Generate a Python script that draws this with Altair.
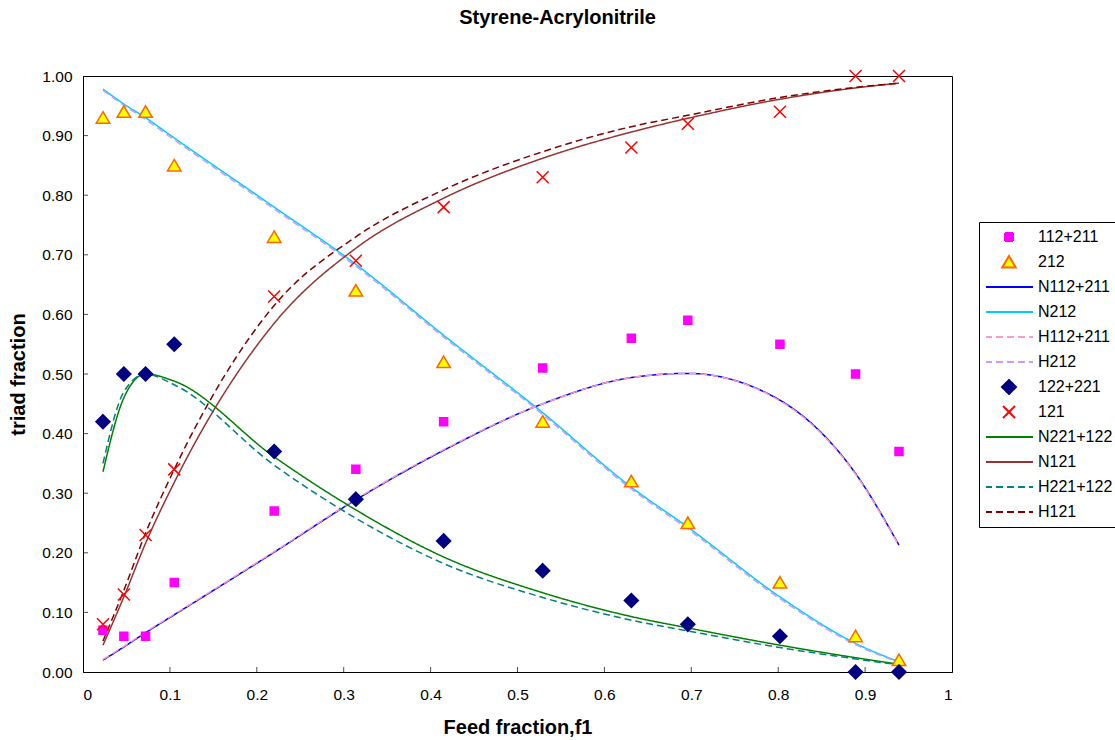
import altair as alt
import pandas as pd

# Feed fraction of styrene (f1) for every experiment
feed_f1 = [0.023, 0.047, 0.072, 0.105, 0.220, 0.314, 0.415, 0.529, 0.631, 0.696, 0.802, 0.889, 0.939]

# Measured triad fractions
exp_112_211 = [0.07, 0.06, 0.06, 0.15, 0.27, 0.34, 0.42, 0.51, 0.56, 0.59, 0.55, 0.50, 0.37]
exp_212 = [0.93, 0.94, 0.94, 0.85, 0.73, 0.64, 0.52, 0.42, 0.32, 0.25, 0.15, 0.06, 0.02]
exp_122_221 = [0.42, 0.50, 0.50, 0.55, 0.37, 0.29, 0.22, 0.17, 0.12, 0.08, 0.06, 0.00, 0.00]
exp_121 = [0.08, 0.13, 0.23, 0.34, 0.63, 0.69, 0.78, 0.83, 0.88, 0.92, 0.94, 1.00, 1.00]

# Model predictions (N = terminal model, H = penultimate model)
n_112_211 = [0.020, 0.042, 0.066, 0.096, 0.201, 0.289, 0.372, 0.450, 0.494, 0.501, 0.456, 0.333, 0.213]
n_212 = [0.978, 0.953, 0.930, 0.896, 0.780, 0.684, 0.565, 0.435, 0.310, 0.243, 0.126, 0.048, 0.017]
h_112_211 = [0.021, 0.043, 0.067, 0.097, 0.202, 0.290, 0.373, 0.450, 0.494, 0.501, 0.455, 0.332, 0.212]
h_212 = [0.976, 0.951, 0.927, 0.893, 0.777, 0.681, 0.562, 0.432, 0.307, 0.240, 0.123, 0.046, 0.016]
n_221_122 = [0.336, 0.460, 0.500, 0.488, 0.361, 0.272, 0.193, 0.133, 0.093, 0.074, 0.045, 0.024, 0.013]
n_121 = [0.045, 0.126, 0.216, 0.318, 0.585, 0.711, 0.795, 0.862, 0.906, 0.929, 0.961, 0.980, 0.988]
h_221_122 = [0.350, 0.470, 0.500, 0.482, 0.347, 0.258, 0.182, 0.125, 0.087, 0.069, 0.041, 0.022, 0.012]
h_121 = [0.052, 0.137, 0.233, 0.340, 0.615, 0.730, 0.809, 0.873, 0.915, 0.934, 0.964, 0.981, 0.988]

x_ticks = [0.1, 0.2, 0.3, 0.4, 0.5, 0.6, 0.7, 0.8, 0.9]
y_ticks = [0.1, 0.2, 0.3, 0.4, 0.5, 0.6, 0.7, 0.8, 0.9]

series_order = ["112+211", "212", "N112+211", "N212", "H112+211", "H212",
                "122+221", "121", "N221+122", "N121", "H221+122", "H121"]

# Marker / line symbols (unit paths, scaled by the symbol size)
SQUARE = "M-0.8,-0.8H0.8V0.8H-0.8Z"
TRIANGLE = "M0,-1.2L1.35,1.1H-1.35Z"
DIAMOND = "M0,-1.4L1.4,0L0,1.4L-1.4,0Z"
XMARK = "M-1.2,-1.2L1.2,1.2M-1.2,1.2L1.2,-1.2"
LINE = "M-4.8,0H4.8"

fill_range = ["#FF00FF", "#FFFF00", "transparent", "transparent", "transparent", "transparent",
              "#000080", "transparent", "transparent", "transparent", "transparent", "transparent"]
stroke_range = ["#FF00FF", "#FF6600", "#0000FF", "#00CCFF", "#FF99CC", "#CC99FF",
                "#000080", "#FF0000", "#008000", "#993333", "#008080", "#800000"]
shape_range = [SQUARE, TRIANGLE, LINE, LINE, LINE, LINE,
               DIAMOND, XMARK, LINE, LINE, LINE, LINE]
SOLID = [1, 0]
DASH = [7, 4]
dash_range = [SOLID, SOLID, SOLID, SOLID, DASH, DASH,
              SOLID, SOLID, SOLID, SOLID, DASH, DASH]

measured = {"112+211": exp_112_211, "212": exp_212, "122+221": exp_122_221, "121": exp_121}
model = {"N112+211": n_112_211, "N212": n_212, "H112+211": h_112_211, "H212": h_212,
         "N221+122": n_221_122, "N121": n_121, "H221+122": h_221_122, "H121": h_121}

points_df = pd.DataFrame([
    {"f1": x, "frac": y, "series": name}
    for name, vals in measured.items() for x, y in zip(feed_f1, vals)
])
curves_df = pd.DataFrame([
    {"f1": x, "frac": y, "series": name}
    for name, vals in model.items() for x, y in zip(feed_f1, vals)
])
xtick_df = pd.DataFrame({"f1": x_ticks, "frac": [0.0] * len(x_ticks)})
ytick_df = pd.DataFrame({"f1": [0.0] * len(y_ticks), "frac": y_ticks})

FONT = "Liberation Sans"

legend = alt.Legend(
    title=None, orient="none", legendX=896, legendY=146,
    strokeColor="black", fillColor="white", padding=7, rowPadding=9, clipHeight=16,
    labelFont=FONT, labelFontSize=16, labelColor="black",
    symbolSize=100, symbolStrokeWidth=2, symbolOffset=15, labelOffset=21,
    symbolOpacity=1, cornerRadius=0,
)

x_enc = alt.X("f1:Q", scale=alt.Scale(domain=[0, 1], nice=False, zero=False),
              axis=alt.Axis(values=[0] + x_ticks + [1], format="~g", title="Feed fraction,f1",
                            ticks=False, grid=False))
y_enc = alt.Y("frac:Q", scale=alt.Scale(domain=[0, 1], nice=False, zero=False),
              axis=alt.Axis(values=[0] + y_ticks + [1], format=".2f", title="triad fraction",
                            ticks=False, grid=False))

stroke_enc = alt.Stroke("series:N", scale=alt.Scale(domain=series_order, range=stroke_range), legend=legend)
fill_enc = alt.Fill("series:N", scale=alt.Scale(domain=series_order, range=fill_range), legend=legend)
shape_enc = alt.Shape("series:N", scale=alt.Scale(domain=series_order, range=shape_range), legend=legend)
dash_enc = alt.StrokeDash("series:N", scale=alt.Scale(domain=series_order, range=dash_range), legend=legend)

curves = alt.Chart(curves_df).mark_line(strokeWidth=1.5, interpolate="monotone").encode(
    x=x_enc, y=y_enc, stroke=stroke_enc, strokeDash=dash_enc,
)

points = alt.Chart(points_df).mark_point(filled=True, size=100, strokeWidth=1.5, opacity=1).encode(
    x=x_enc, y=y_enc, fill=fill_enc, stroke=stroke_enc, shape=shape_enc,
)

# Inward-pointing tick marks on both axes
xticks = alt.Chart(xtick_df).mark_tick(orient="vertical", size=5, thickness=1, color="black",
                                       yOffset=-2.5).encode(x="f1:Q", y="frac:Q")
yticks = alt.Chart(ytick_df).mark_tick(orient="horizontal", size=5, thickness=1, color="black",
                                       xOffset=2.5).encode(x="f1:Q", y="frac:Q")

chart = alt.layer(curves, points, xticks, yticks).properties(
    width=869, height=596,
    autosize=alt.AutoSizeParams(type="none"),
    padding={"left": 83, "top": 76, "right": 163, "bottom": 68},
    title=alt.TitleParams("Styrene-Acrylonitrile", font=FONT, fontSize=20, fontWeight="bold",
                          color="black", anchor="middle", frame="group", dx=40,
                          baseline="bottom", offset=19),
    background="white",
).configure_view(
    stroke="black", strokeWidth=1, fill="white",
).configure_axis(
    labelFont=FONT, labelFontSize=15.5, labelColor="black",
    titleFont=FONT, titleFontSize=20, titleFontWeight="bold", titleColor="black",
    domainColor="black", domainWidth=1, labelPadding=11,
).configure_axisX(
    labelPadding=15, titlePadding=15,
).configure_axisY(
    titlePadding=13,
)

chart.save("out.html", embed_options={"renderer": "svg", "actions": False})
